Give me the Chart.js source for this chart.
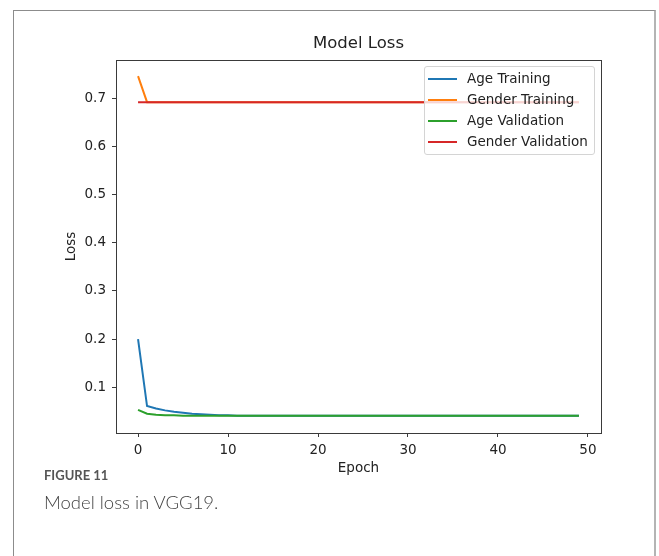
<!DOCTYPE html>
<html>
<head>
    <title>Model Loss</title>
    <script src="https://cdn.jsdelivr.net/npm/chart.js"></script>
    <style>
        body {
            margin: 0;
            background: #ffffff;
            width: 659px;
            height: 556px;
            overflow: hidden;
            position: relative;
        }
        .frame {
            position: absolute;
            left: 13px;
            top: 10px;
            width: 640px;
            height: 600px;
            border-left: 1px solid #8c8c8c;
            border-top: 1px solid #8c8c8c;
            border-right: 2px solid #b4b4b4;
        }
        .chart-box {
            position: absolute;
            left: 0;
            top: 0;
            width: 659px;
            height: 556px;
        }
        .legend {
            position: absolute;
            left: 424px;
            top: 66px;
            width: 169px;
            height: 86px;
            padding-top: 1px;
            border: 1px solid #d4d4d4;
            border-radius: 3px;
            background: rgba(255, 255, 255, 0.8);
            font-family: "DejaVu Sans", sans-serif;
            font-size: 13.5px;
            color: #222;
        }
        .legend-row {
            height: 21px;
            line-height: 21px;
            display: flex;
            align-items: center;
        }
        .legend-line {
            width: 29px;
            height: 2px;
            margin-left: 3px;
            margin-right: 10px;
        }
        .caption-label {
            position: absolute;
            left: 44px;
            top: 467px;
            font-family: Lato, "Open Sans", sans-serif;
            font-weight: 700;
            font-size: 13px;
            color: #555;
        }
        .caption-text {
            position: absolute;
            left: 44px;
            top: 491px;
            font-family: Lato, "Open Sans", sans-serif;
            font-weight: 300;
            font-size: 18.5px;
            color: #444;
        }
    </style>
</head>
<body>
    <div class="frame"></div>
    <div class="chart-box">
        <canvas id="lossChart"></canvas>
    </div>
    <div class="legend" id="legend"></div>
    <div class="caption-label">FIGURE 11</div>
    <div class="caption-text">Model loss in VGG19.</div>

    <script>
        // Data
        const epochs = [0, 1, 2, 3, 4, 5, 6, 7, 8, 9, 10, 11, 12, 13, 14, 15, 16, 17, 18, 19,
            20, 21, 22, 23, 24, 25, 26, 27, 28, 29, 30, 31, 32, 33, 34, 35, 36, 37, 38, 39,
            40, 41, 42, 43, 44, 45, 46, 47, 48, 49];

        const ageTraining = [0.200, 0.061, 0.056, 0.052, 0.049, 0.047, 0.045, 0.044, 0.043, 0.042,
            0.042, 0.041, 0.041, 0.041, 0.041, 0.041, 0.041, 0.041, 0.041, 0.041,
            0.041, 0.041, 0.041, 0.041, 0.041, 0.041, 0.041, 0.041, 0.041, 0.041,
            0.041, 0.041, 0.041, 0.041, 0.041, 0.041, 0.041, 0.041, 0.041, 0.041,
            0.041, 0.041, 0.041, 0.041, 0.041, 0.041, 0.041, 0.041, 0.041, 0.041];

        const genderTraining = [0.746, 0.692, 0.692, 0.692, 0.692, 0.692, 0.692, 0.692, 0.692, 0.692,
            0.692, 0.692, 0.692, 0.692, 0.692, 0.692, 0.692, 0.692, 0.692, 0.692,
            0.692, 0.692, 0.692, 0.692, 0.692, 0.692, 0.692, 0.692, 0.692, 0.692,
            0.692, 0.692, 0.692, 0.692, 0.692, 0.692, 0.692, 0.692, 0.692, 0.692,
            0.692, 0.692, 0.692, 0.692, 0.692, 0.692, 0.692, 0.692, 0.692, 0.692];

        const ageValidation = [0.053, 0.045, 0.043, 0.042, 0.042, 0.041, 0.041, 0.041, 0.041, 0.041,
            0.041, 0.041, 0.041, 0.041, 0.041, 0.041, 0.041, 0.041, 0.041, 0.041,
            0.041, 0.041, 0.041, 0.041, 0.041, 0.041, 0.041, 0.041, 0.041, 0.041,
            0.041, 0.041, 0.041, 0.041, 0.041, 0.041, 0.041, 0.041, 0.041, 0.041,
            0.041, 0.041, 0.041, 0.041, 0.041, 0.041, 0.041, 0.041, 0.041, 0.041];

        const genderValidation = [0.692, 0.692, 0.692, 0.692, 0.692, 0.692, 0.692, 0.692, 0.692, 0.692,
            0.692, 0.692, 0.692, 0.692, 0.692, 0.692, 0.692, 0.692, 0.692, 0.692,
            0.692, 0.692, 0.692, 0.692, 0.692, 0.692, 0.692, 0.692, 0.692, 0.692,
            0.692, 0.692, 0.692, 0.692, 0.692, 0.692, 0.692, 0.692, 0.692, 0.692,
            0.692, 0.692, 0.692, 0.692, 0.692, 0.692, 0.692, 0.692, 0.692, 0.692];

        const xTicks = [0, 10, 20, 30, 40, 50];
        const yTicks = [0.1, 0.2, 0.3, 0.4, 0.5, 0.6, 0.7];

        const seriesNames = ['Age Training', 'Gender Training', 'Age Validation', 'Gender Validation'];
        const seriesColors = ['#1f77b4', '#ff7f0e', '#2ca02c', '#d62728'];
        const seriesValues = [ageTraining, genderTraining, ageValidation, genderValidation];

        const tickFont = { family: 'DejaVu Sans', size: 13.5 };

        // full box around the plot, like matplotlib spines
        const boxPlugin = {
            id: 'box',
            afterDraw(chart) {
                const a = chart.chartArea;
                const ctx = chart.ctx;
                ctx.save();
                ctx.strokeStyle = '#3a3a3a';
                ctx.lineWidth = 1;
                ctx.strokeRect(Math.round(a.left) + 0.5, Math.round(a.top) + 0.5,
                    Math.round(a.right - a.left), Math.round(a.bottom - a.top));
                ctx.restore();
            }
        };

        const datasets = seriesNames.map((name, i) => ({
            label: name,
            data: epochs.map((e, j) => ({ x: e, y: seriesValues[i][j] })),
            borderColor: seriesColors[i],
            backgroundColor: seriesColors[i],
            borderWidth: 2,
            pointRadius: 0,
            tension: 0,
            fill: false,
            order: seriesNames.length - 1 - i
        }));

        new Chart(document.getElementById('lossChart'), {
            type: 'line',
            data: { datasets: datasets },
            plugins: [boxPlugin],
            options: {
                responsive: true,
                maintainAspectRatio: false,
                animation: false,
                layout: {
                    padding: { left: 55, right: 58, top: 30, bottom: 73 }
                },
                plugins: {
                    legend: { display: false },
                    tooltip: { enabled: false },
                    title: {
                        display: true,
                        fullSize: false,
                        text: 'Model Loss',
                        color: '#222',
                        font: { family: 'DejaVu Sans', size: 16.5, weight: 'normal' },
                        padding: { top: 4, bottom: 6 }
                    }
                },
                scales: {
                    x: {
                        type: 'linear',
                        min: -2.45,
                        max: 51.45,
                        afterBuildTicks: s => { s.ticks = xTicks.map(v => ({ value: v })); },
                        afterFit: s => { s.height = 50; },
                        border: { display: false },
                        grid: {
                            drawOnChartArea: false,
                            drawTicks: true,
                            tickLength: 4,
                            color: '#3a3a3a'
                        },
                        ticks: {
                            color: '#222',
                            font: tickFont,
                            padding: 5,
                            maxRotation: 0
                        },
                        title: {
                            display: true,
                            text: 'Epoch',
                            color: '#222',
                            font: tickFont,
                            padding: { top: 0, bottom: 6 }
                        }
                    },
                    y: {
                        type: 'linear',
                        min: 0.005,
                        max: 0.78,
                        afterBuildTicks: s => { s.ticks = yTicks.map(v => ({ value: v })); },
                        afterFit: s => { s.width = 61; },
                        border: { display: false },
                        grid: {
                            drawOnChartArea: false,
                            drawTicks: true,
                            tickLength: 4,
                            color: '#3a3a3a'
                        },
                        ticks: {
                            color: '#222',
                            font: tickFont,
                            padding: 6,
                            callback: v => v.toFixed(1)
                        },
                        title: {
                            display: true,
                            text: 'Loss',
                            color: '#222',
                            font: tickFont,
                            padding: { top: 8, bottom: 0 }
                        }
                    }
                }
            }
        });

        // Legend inside the axes, upper right
        const legendDiv = document.getElementById('legend');
        seriesNames.forEach((name, i) => {
            const row = document.createElement('div');
            row.className = 'legend-row';
            const line = document.createElement('span');
            line.className = 'legend-line';
            line.style.background = seriesColors[i];
            const label = document.createElement('span');
            label.textContent = name;
            row.appendChild(line);
            row.appendChild(label);
            legendDiv.appendChild(row);
        });
    </script>
</body>
</html>
